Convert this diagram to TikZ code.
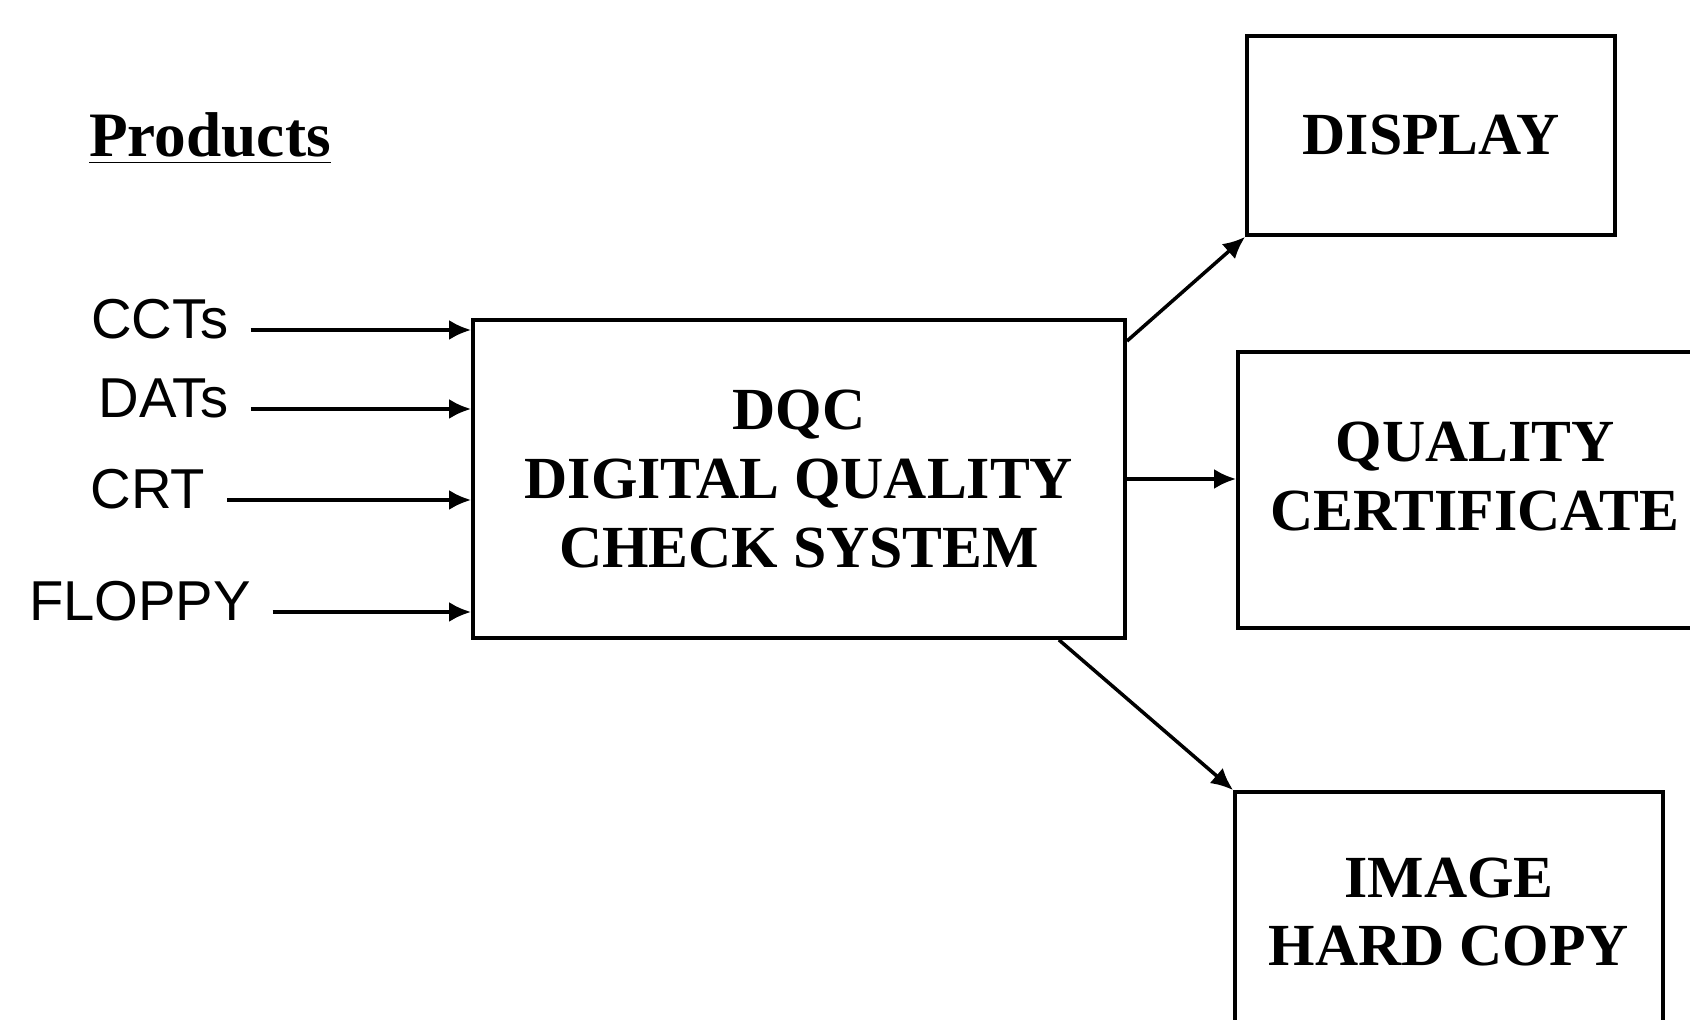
\documentclass[tikz,border=0pt]{standalone}
\usepackage{fontspec}
\setmainfont{Liberation Serif}
\newfontfamily\srcfont{Liberation Sans}
\usetikzlibrary{arrows.meta}

\tikzset{
  unit/.style={draw, line width=1.1pt, inner sep=0pt, align=center,
    font=\fontsize{17}{19.5}\selectfont\bfseries},
  src/.style={inner sep=6pt, font=\srcfont\fontsize{16}{18}\selectfont},
  feed/.style={line width=1pt, -{Latex[length=2.2mm,width=2mm]}},
}

\begin{document}
\begin{tikzpicture}
   \useasboundingbox (0,0) rectangle (16.9,10.2);
   \node[anchor=base, font=\fontsize{18}{20}\selectfont\bfseries] (products) at (2.10,8.63) {\underline{Products}};
   % input media
   \node[src, anchor=mid] (ccts) at (1.60,6.90) {CCTs};
   \node[src, anchor=mid] (dats) at (1.64,6.11) {DATs};
   \node[src, anchor=mid] (crt) at (1.48,5.20) {CRT};
   \node[src, anchor=mid] (floppy) at (1.40,4.08) {FLOPPY};
   % boxes
   \node[unit, minimum width=6.52cm, minimum height=3.18cm] (main) at (7.99,5.41) {DQC\\DIGITAL QUALITY\\CHECK SYSTEM};
   \node[unit, minimum width=3.68cm, minimum height=1.99cm] (display) at (14.31,8.845) {DISPLAY};
   \node[unit, minimum width=4.74cm, minimum height=2.76cm] (quality) at (14.75,5.30) {QUALITY\\CERTIFICATE\\[-4.1mm]};
   \node[unit, minimum width=4.28cm, minimum height=2.40cm] (hardcopy) at (14.49,1.08) {IMAGE\\HARD COPY};
   % connectors
   \draw[feed] (ccts.mid east) -- (ccts.mid east -| main.west);
   \draw[feed] (dats.mid east) -- (dats.mid east -| main.west);
   \draw[feed] (crt.mid east) -- (crt.mid east -| main.west);
   \draw[feed] (floppy.mid east) -- (floppy.mid east -| main.west);
   \draw[feed] ([yshift=-2.3mm]main.north east) -- (display.south west);
   \draw[feed] (main.east) -- (main.east -| quality.west);
   \draw[feed] ([xshift=-6.8mm]main.south east) -- (hardcopy.north west);
\end{tikzpicture}
\end{document}
